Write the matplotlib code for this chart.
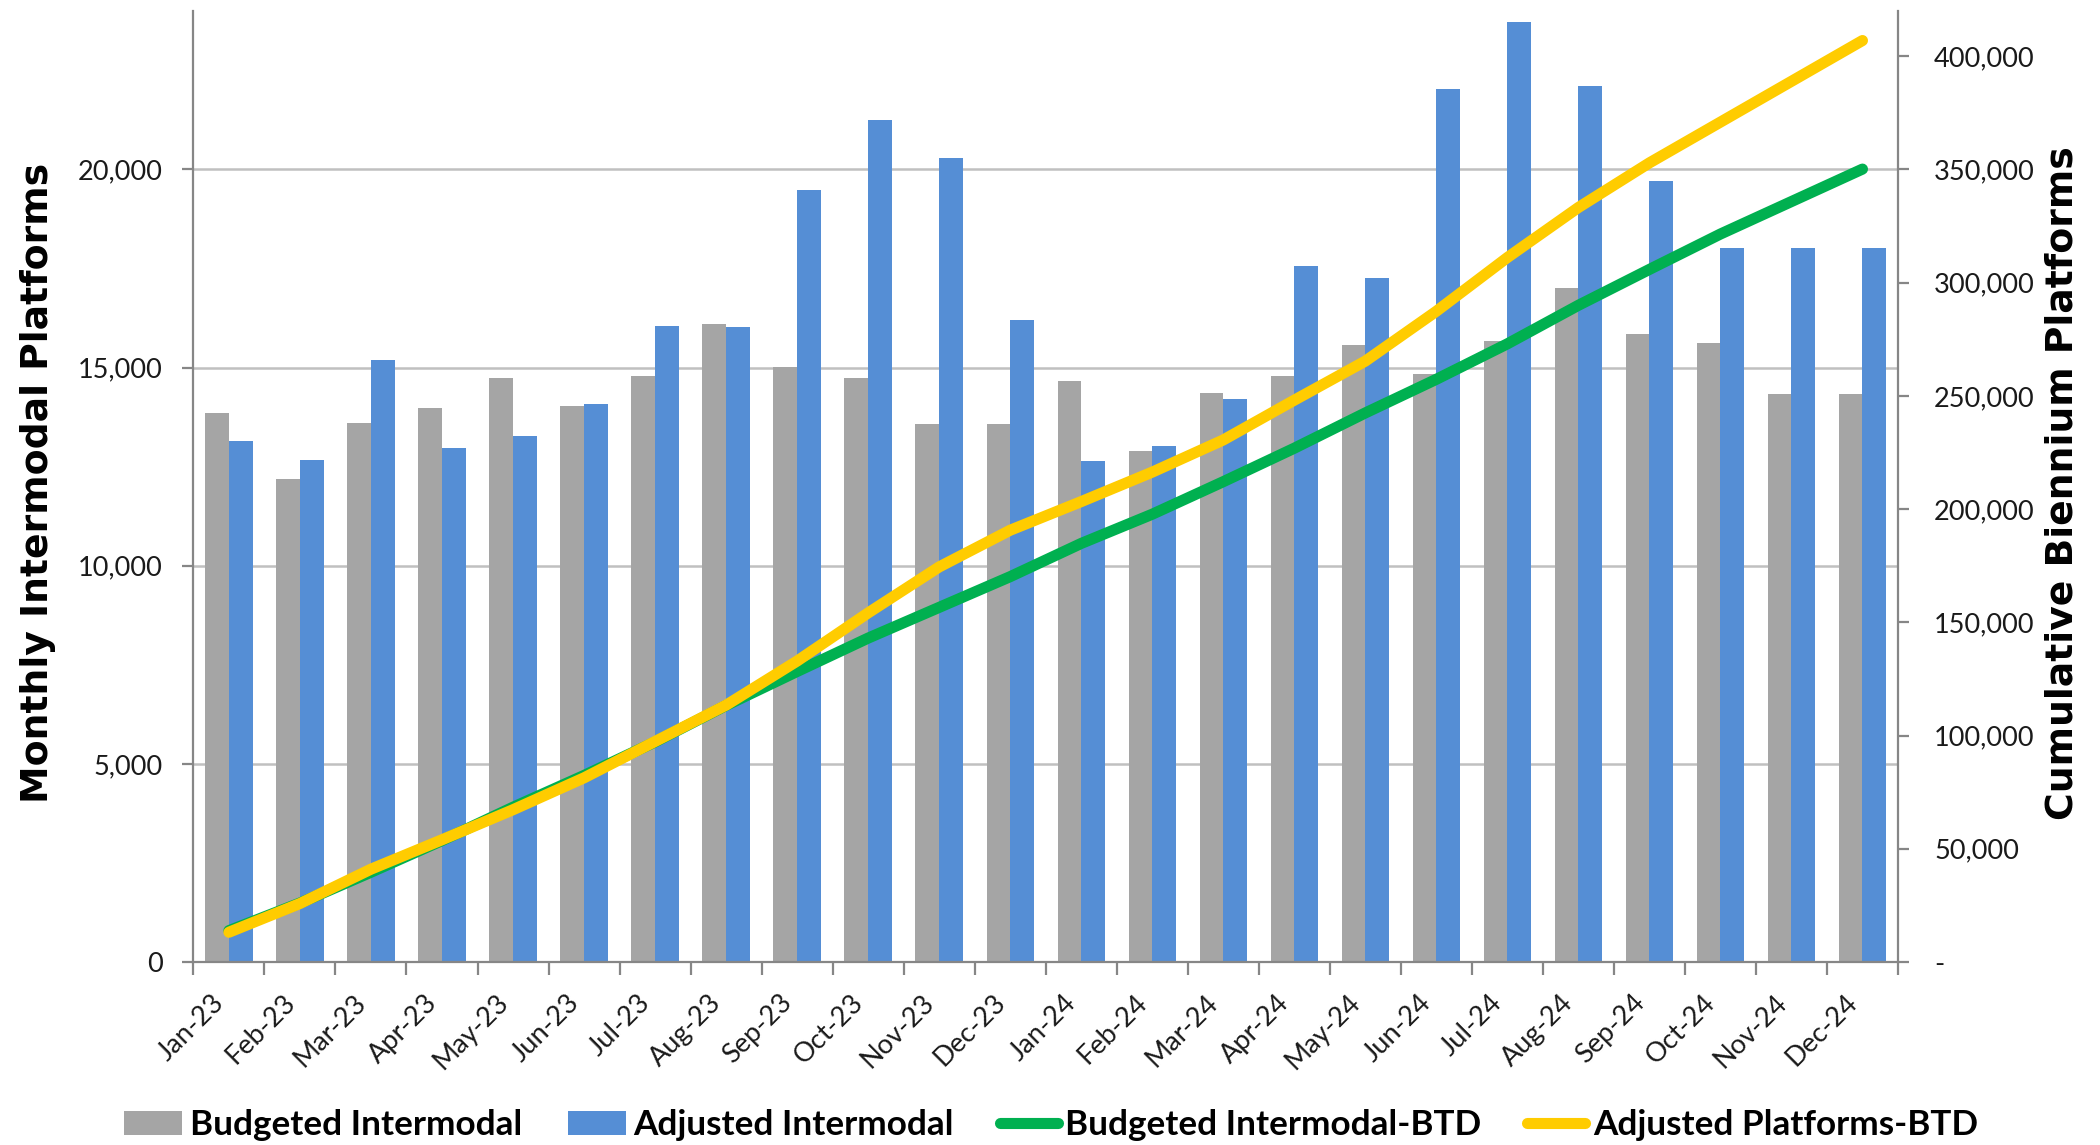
import matplotlib
matplotlib.use("Agg")
import matplotlib.pyplot as plt
from matplotlib.patches import Patch
from matplotlib.lines import Line2D
from matplotlib.ticker import FuncFormatter, MultipleLocator, FixedLocator
import numpy as np

# ---- data -------------------------------------------------------------
months = ["Jan-23", "Feb-23", "Mar-23", "Apr-23", "May-23", "Jun-23",
          "Jul-23", "Aug-23", "Sep-23", "Oct-23", "Nov-23", "Dec-23",
          "Jan-24", "Feb-24", "Mar-24", "Apr-24", "May-24", "Jun-24",
          "Jul-24", "Aug-24", "Sep-24", "Oct-24", "Nov-24", "Dec-24"]

budgeted_intermodal = [13860, 12200, 13600, 13970, 14740, 14030,
                       14780, 16110, 15020, 14740, 13570, 13570,
                       14670, 12900, 14370, 14780, 15580, 14850,
                       15660, 17020, 15850, 15630, 14340, 14340]

adjusted_intermodal = [13150, 12680, 15180, 12980, 13270, 14080,
                       16060, 16030, 19490, 21260, 20300, 16210,
                       12640, 13020, 14200, 17570, 17250, 22020,
                       23720, 22100, 19710, 18010, 18010, 18010]

budgeted_btd = [13860, 26060, 39660, 53630, 68370, 82400,
                97180, 113290, 128310, 143050, 156620, 170190,
                184860, 197760, 212130, 226910, 242490, 257340,
                273000, 290020, 305870, 321500, 335840, 350180]

adjusted_btd = [13150, 25830, 41010, 53990, 67260, 81340,
                97400, 113430, 132920, 154180, 174480, 190690,
                203330, 216350, 230550, 248120, 265370, 287390,
                311110, 333210, 352920, 370930, 388940, 406950]

# ---- style ------------------------------------------------------------
GRAY = "#A5A5A5"
BLUE = "#558ED5"
GREEN = "#00B050"
GOLD = "#FFCC00"
AXIS = "#868686"
GRID = "#C0C0C0"
TXT = "#1a1a1a"
TICK_FONT = dict(family="Lato", size=19.5)

fig = plt.figure(figsize=(21, 11.45), dpi=100)
ax = fig.add_axes([0.0921, 0.1598, 0.8117, 0.8306])
ax2 = ax.twinx()

x = np.arange(len(months))
w = 1 / 3
ax.bar(x - w / 2, budgeted_intermodal, width=w, color=GRAY, zorder=2)
ax.bar(x + w / 2, adjusted_intermodal, width=w, color=BLUE, zorder=2)

line_kw = dict(lw=8, solid_capstyle="round", solid_joinstyle="round")
ax2.plot(x, budgeted_btd, color=GREEN, **line_kw)
ax2.plot(x, adjusted_btd, color=GOLD, **line_kw)

# ---- axes -------------------------------------------------------------
ax.set_xlim(-0.5, len(months) - 0.5)
ax.set_ylim(0, 24000)
ax2.set_ylim(0, 420000)

ax.yaxis.set_major_locator(FixedLocator([0, 5000, 10000, 15000, 20000]))
ax2.yaxis.set_major_locator(MultipleLocator(50000))
ax.yaxis.set_major_formatter(FuncFormatter(lambda v, p: f"{v:,.0f}"))
ax2.yaxis.set_major_formatter(
    FuncFormatter(lambda v, p: "-" if v == 0 else f"{v:,.0f}"))

ax.yaxis.grid(True, color=GRID, lw=1.8)
ax.set_axisbelow(True)

for a in (ax, ax2):
    for s in a.spines.values():
        s.set_color(AXIS)
        s.set_linewidth(1.6)
    a.spines["top"].set_visible(False)
ax.spines["right"].set_visible(False)
ax2.spines["left"].set_visible(False)
ax2.spines["bottom"].set_visible(False)

ax.set_xticks(x)
ax.set_xticklabels(months, rotation=45, ha="right", **TICK_FONT, color=TXT)
ax.xaxis.set_minor_locator(FixedLocator(np.arange(-0.5, len(months), 1)))
ax.tick_params(axis="x", which="major", length=0, pad=20)
ax.tick_params(axis="x", which="minor", length=9, width=1.6, color=AXIS,
               direction="out")

ax.tick_params(axis="y", length=8, width=1.6, color=AXIS, pad=14,
               labelcolor=TXT)
ax2.tick_params(axis="y", length=8, width=1.6, color=AXIS, pad=18,
                labelcolor=TXT)
for lab in ax.get_yticklabels() + ax2.get_yticklabels():
    lab.set_fontfamily(TICK_FONT["family"])
    lab.set_fontsize(TICK_FONT["size"])

TITLE_FONT = dict(family="DejaVu Sans", weight="bold", size=27.2,
                  color="black")
fig.text(0.0179, 0.578, "Monthly Intermodal Platforms", rotation=90,
         ha="center", va="center", **TITLE_FONT)
fig.text(0.982, 0.578, "Cumulative Biennium Platforms", rotation=90,
         ha="center", va="center", **TITLE_FONT)

# ---- legend -----------------------------------------------------------
handles = [
    Patch(facecolor=GRAY, label="Budgeted Intermodal"),
    Patch(facecolor=BLUE, label="Adjusted Intermodal"),
    Line2D([], [], color=GREEN, lw=8, solid_capstyle="round",
           label="Budgeted Intermodal-BTD"),
    Line2D([], [], color=GOLD, lw=8, solid_capstyle="round",
           label="Adjusted Platforms-BTD"),
]
fig.legend(handles=handles, loc="center", bbox_to_anchor=(0.5005, 0.0172),
           ncol=4, frameon=False,
           prop=dict(family="Lato", weight="bold", size=25.3),
           handlelength=1.65, handleheight=0.65, handletextpad=0.22,
           columnspacing=1.3, borderaxespad=0, borderpad=0)

fig.savefig("out.png", dpi=100, facecolor="white")
